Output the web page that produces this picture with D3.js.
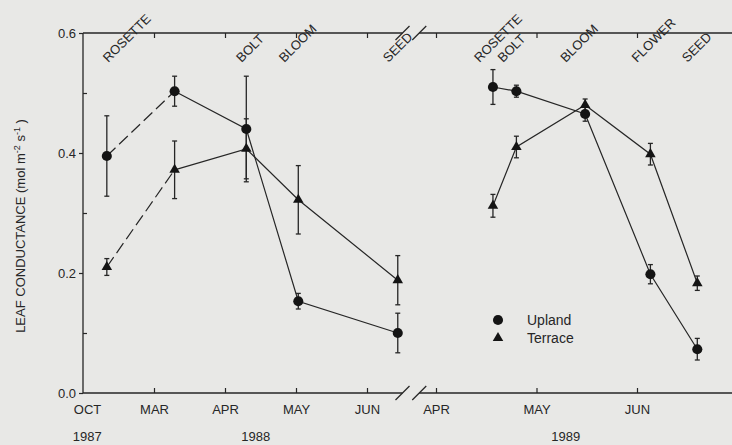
<!DOCTYPE html>
<html>
<head>
<meta charset="utf-8">
<script src="https://cdn.jsdelivr.net/npm/d3@7"></script>
<style>
  html, body { margin: 0; padding: 0; background: #e8e8e6; }
  svg { display: block; font-family: "Liberation Sans", Arial, Helvetica, sans-serif; }
</style>
</head>
<body>
<svg id="chart" width="732" height="445"></svg>
<script>
// ---- Data -------------------------------------------------------------
// Sampling dates, 1987-88 season and 1989 season
const season1Dates = ["1987-11-21", "1988-03-10", "1988-04-10", "1988-05-02", "1988-06-14"];
const season2Dates = ["1989-04-18", "1989-04-25", "1989-05-16", "1989-06-05", "1989-06-19"];

// Leaf conductance (mol m-2 s-1), mean and error, season 1 then season 2
const uplandMean  = [0.395, 0.503, 0.440, 0.153, 0.100, 0.510, 0.503, 0.465, 0.198, 0.073];
const uplandErr   = [0.067, 0.025, 0.088, 0.013, 0.033, 0.029, 0.010, 0.012, 0.016, 0.018];
const terraceMean = [0.210, 0.372, 0.407, 0.322, 0.188, 0.312, 0.410, 0.480, 0.398, 0.183];
const terraceErr  = [0.014, 0.048, 0.050, 0.057, 0.041, 0.019, 0.018, 0.010, 0.018, 0.012];

// Phenological stages
const stageNames = ["ROSETTE", "BOLT", "BLOOM", "SEED", "ROSETTE", "BOLT", "BLOOM", "FLOWER", "SEED"];
const stageDates = ["1987-11-24", "1988-04-08", "1988-04-26", "1988-06-10",
                    "1989-04-14", "1989-04-21", "1989-05-10", "1989-06-01", "1989-06-16"];

// Month axis
const season1Ticks  = ["1987-10-01", "1988-03-01", "1988-04-01", "1988-05-01", "1988-06-01"];
const season1Labels = ["OCT", "MAR", "APR", "MAY", "JUN"];
const season2Ticks  = ["1989-04-01", "1989-05-01", "1989-06-01"];
const season2Labels = ["APR", "MAY", "JUN"];
const yearNames = ["1987", "1988", "1989"];
const yearDates = ["1987-10-10", "1988-04-14", "1989-05-10"];

// Ends of the two axis pieces on either side of the break
const breakDates = ["1988-06-16", "1989-03-27"];

const yTicksMajor = [0, 0.2, 0.4, 0.6];
const yTicksMinor = [0.1, 0.3, 0.5];

// ---- Layout -----------------------------------------------------------
const W = 732, H = 445;
const plotLeft = 83, plotTop = 33, plotBottom = 393;
const step1 = 71;      // px per month in the first season (OCT→MAR compressed)
const start2 = 436, step2 = 100.5;

const ink = "#262626";
const parse = d3.utcParse("%Y-%m-%d");

// Piecewise time scales, one per season
const dom1 = ["1987-10-01", "1988-03-01", "1988-04-01", "1988-05-01", "1988-06-01", "1988-07-01"].map(parse);
const x1 = d3.scaleUtc().domain(dom1).range(dom1.map((d, i) => plotLeft + i * step1));
const dom2 = ["1989-04-01", "1989-05-01", "1989-06-01", "1989-07-01"].map(parse);
const x2 = d3.scaleUtc().domain(dom2).range(dom2.map((d, i) => start2 + i * step2));
const xOf = dt => (dt.getUTCFullYear() >= 1989 ? x2(dt) : x1(dt));

const y = d3.scaleLinear().domain([0, 0.6]).range([plotBottom, plotTop]);

const svg = d3.select("#chart");
svg.append("rect").attr("width", W).attr("height", H).attr("fill", "#e8e8e6");

// ---- Axes -------------------------------------------------------------
const breakL = x1(parse(breakDates[0]));
const breakR = x2(parse(breakDates[1]));
const axisG = svg.append("g").attr("stroke", ink).attr("stroke-width", 1.3).attr("fill", "none");
[plotTop, plotBottom].forEach(yy => {
  axisG.append("line").attr("x1", plotLeft).attr("x2", breakL).attr("y1", yy).attr("y2", yy);
  axisG.append("line").attr("x1", breakR).attr("x2", W).attr("y1", yy).attr("y2", yy);
  [breakL, breakR].forEach(bx => {
    axisG.append("line")
      .attr("x1", bx - 7).attr("y1", yy + 7)
      .attr("x2", bx + 7).attr("y2", yy - 7);
  });
});
axisG.append("line").attr("x1", plotLeft).attr("x2", plotLeft).attr("y1", plotTop).attr("y2", plotBottom);

function styleAxis(g) {
  g.select(".domain").remove();
  g.selectAll(".tick line").attr("stroke", ink).attr("stroke-width", 1.2);
  g.selectAll(".tick text").attr("fill", ink).attr("font-size", 13);
}

// bottom month ticks (inward) with labels, plus matching top ticks
[[x1, season1Ticks, season1Labels], [x2, season2Ticks, season2Labels]].forEach(([sc, ticks, labels]) => {
  const gb = svg.append("g").attr("transform", `translate(0,${plotBottom})`)
    .call(d3.axisBottom(sc).tickValues(ticks.map(parse))
      .tickFormat((d, i) => labels[i]).tickSizeInner(-5).tickSizeOuter(0).tickPadding(12))
    .call(styleAxis);
  const gt = svg.append("g").attr("transform", `translate(0,${plotTop})`)
    .call(d3.axisTop(sc).tickValues(ticks.map(parse))
      .tickFormat("").tickSizeInner(-5).tickSizeOuter(0))
    .call(styleAxis);
  if (sc === x1) {
    // the first month sits on the y axis: no tick, label nudged clear of it
    const first = gb.selectAll(".tick").filter((d, i) => i === 0);
    first.select("line").remove();
    first.select("text").attr("dx", 4);
    gt.selectAll(".tick").filter((d, i) => i === 0).remove();
  }
});

// year labels
svg.append("g").selectAll("text").data(yearNames).join("text")
  .attr("x", (d, i) => xOf(parse(yearDates[i])))
  .attr("y", 441)
  .attr("text-anchor", "middle")
  .attr("font-size", 13)
  .attr("fill", ink)
  .text(d => d);

// y axis
svg.append("g").attr("transform", `translate(${plotLeft},0)`)
  .call(d3.axisLeft(y).tickValues(yTicksMajor).tickFormat(d3.format(".1f"))
    .tickSizeInner(4).tickSizeOuter(0).tickPadding(3))
  .call(styleAxis);
svg.append("g").attr("transform", `translate(${plotLeft},0)`)
  .call(d3.axisLeft(y).tickValues(yTicksMinor).tickFormat("")
    .tickSizeInner(-4).tickSizeOuter(0))
  .call(styleAxis);

// y axis title
const yTitle = svg.append("text")
  .attr("transform", `translate(25,${(plotTop + plotBottom) / 2 + 13}) rotate(-90)`)
  .attr("text-anchor", "middle")
  .attr("font-size", 13)
  .attr("fill", ink);
yTitle.append("tspan").text("LEAF CONDUCTANCE (mol m");
yTitle.append("tspan").attr("dy", -5).attr("font-size", 9).text("-2");
yTitle.append("tspan").attr("dy", 5).text(" s");
yTitle.append("tspan").attr("dy", -5).attr("font-size", 9).text("-1");
yTitle.append("tspan").attr("dy", 5).text(" )");

// stage labels along the top
svg.append("g").selectAll("text").data(stageNames).join("text")
  .attr("transform", (d, i) => `translate(${xOf(parse(stageDates[i]))},63) rotate(-45)`)
  .attr("font-size", 13)
  .attr("fill", ink)
  .text(d => d);

// ---- Series -----------------------------------------------------------
const allDates = season1Dates.concat(season2Dates).map(parse);
function rows(mean, err) {
  return mean.map((m, i) => ({ date: allDates[i], mean: m, err: err[i] }));
}
const series = [
  { name: "Upland", rows: rows(uplandMean, uplandErr), symbol: d3.symbolCircle, size: 80 },
  { name: "Terrace", rows: rows(terraceMean, terraceErr), symbol: d3.symbolTriangle, size: 48 }
];

const line = d3.line().x(d => xOf(d.date)).y(d => y(d.mean));
const n1 = season1Dates.length;

series.forEach(s => {
  const g = svg.append("g");
  // first interval (over winter) dashed
  g.append("path").attr("d", line(s.rows.slice(0, 2)))
    .attr("fill", "none").attr("stroke", ink).attr("stroke-width", 1.2)
    .attr("stroke-dasharray", "12,5");
  g.append("path").attr("d", line(s.rows.slice(1, n1)))
    .attr("fill", "none").attr("stroke", ink).attr("stroke-width", 1.2);
  g.append("path").attr("d", line(s.rows.slice(n1)))
    .attr("fill", "none").attr("stroke", ink).attr("stroke-width", 1.2);

  // error bars
  const eb = g.append("g").attr("stroke", ink).attr("stroke-width", 1.3);
  s.rows.forEach(r => {
    const cx = xOf(r.date);
    const y0 = y(r.mean - r.err), y1 = y(r.mean + r.err);
    eb.append("line").attr("x1", cx).attr("x2", cx).attr("y1", y0).attr("y2", y1);
    eb.append("line").attr("x1", cx - 2.5).attr("x2", cx + 2.5).attr("y1", y0).attr("y2", y0);
    eb.append("line").attr("x1", cx - 2.5).attr("x2", cx + 2.5).attr("y1", y1).attr("y2", y1);
  });
});

series.forEach(s => {
  svg.append("g").selectAll("path").data(s.rows).join("path")
    .attr("transform", d => `translate(${xOf(d.date)},${y(d.mean)})`)
    .attr("d", d3.symbol(s.symbol, s.size))
    .attr("fill", "#141414");
});

// ---- Legend -----------------------------------------------------------
const legend = svg.append("g").attr("transform", "translate(498,320)");
series.forEach((s, i) => {
  legend.append("path")
    .attr("transform", `translate(0,${i * 18})`)
    .attr("d", d3.symbol(s.symbol, s.size))
    .attr("fill", "#141414");
  legend.append("text")
    .attr("x", 29).attr("y", i * 18 + 5)
    .attr("font-size", 14)
    .attr("fill", ink)
    .text(s.name);
});
</script>
</body>
</html>
